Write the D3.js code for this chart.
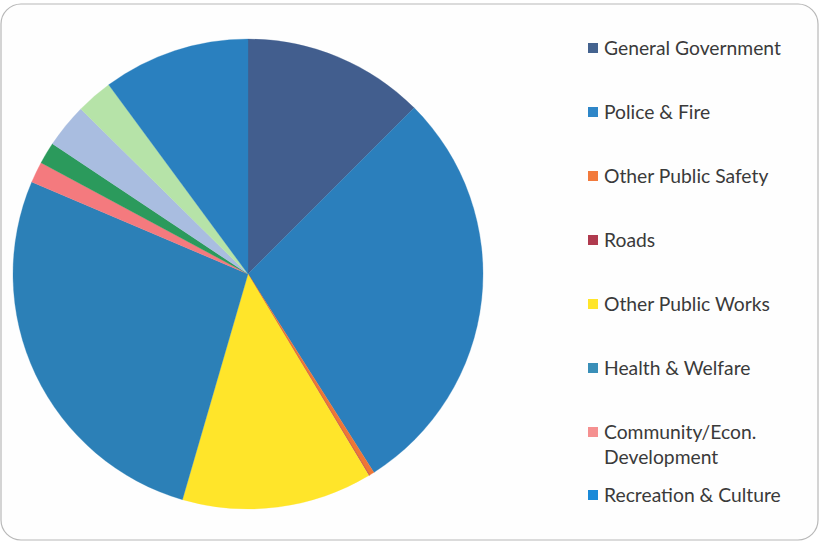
<!DOCTYPE html>
<html>
<head>
<meta charset="utf-8">
<script src="https://cdn.jsdelivr.net/npm/d3@7"></script>
<style>
  html, body { margin: 0; padding: 0; background: #ffffff; }
  svg { display: block; }
</style>
</head>
<body>
<svg id="chart" width="820" height="542"></svg>
<script>
// Expenditure shares by function (percent of total)
const categories = [
  "General Government",
  "Police & Fire",
  "Other Public Safety",
  "Roads",
  "Other Public Works",
  "Health & Welfare",
  "Community/Econ. Development",
  "Conservation",
  "Debt Service",
  "Capital Outlay",
  "Recreation & Culture"
];
const shares = [12.5, 28.5, 0.35, 0.05, 13.1, 26.9, 1.45, 1.5, 3.05, 2.5, 10.1];
const colors = [
  "#425e8e", "#2b7fbc", "#ee7636", "#b03a4e", "#ffe52a",
  "#2c80b7", "#f47a7e", "#2b9a5c", "#a9bde0", "#b6e3a8", "#2a80bf"
];
// Entries shown in the legend (in order)
const legendItems = [
  "General Government",
  "Police & Fire",
  "Other Public Safety",
  "Roads",
  "Other Public Works",
  "Health & Welfare",
  "Community/Econ. Development",
  "Recreation & Culture"
];
const legendColors = [
  "#44638f", "#2e86c8", "#f27a3c", "#b03a4e", "#ffe52a",
  "#3a8fb8", "#f59090", "#1a8ad8"
];

const svg = d3.select("#chart");
const W = 820, H = 542;

// Rounded frame
svg.append("rect")
  .attr("x", 1).attr("y", 4)
  .attr("width", W - 3).attr("height", H - 6)
  .attr("rx", 20).attr("ry", 20)
  .attr("fill", "#fefefe")
  .attr("stroke", "#b8b8b8")
  .attr("stroke-width", 1.2);

// Pie
const cx = 248, cy = 274, r = 235;
const data = categories.map((c, i) => ({ name: c, value: shares[i], color: colors[i] }));
const pie = d3.pie().value(d => d.value).sort(null).startAngle(0).endAngle(2 * Math.PI);
const arc = d3.arc().innerRadius(0).outerRadius(r);

svg.append("g")
  .attr("transform", `translate(${cx},${cy})`)
  .selectAll("path")
  .data(pie(data))
  .join("path")
  .attr("d", arc)
  .attr("fill", d => d.data.color)
  .attr("stroke", d => d.data.color)
  .attr("stroke-width", 0.3);

// Legend
const legend = svg.append("g").attr("font-family", "Lato, 'Open Sans', sans-serif")
  .attr("font-size", 19.3).attr("fill", "#3a3a3a");
const rowY = d3.scalePoint().domain(d3.range(legendItems.length - 1)).range([48, 432]);
const wrapWidth = 200;

legendItems.forEach((name, i) => {
  const y = i < legendItems.length - 1 ? rowY(i) : 495;
  const g = legend.append("g").attr("transform", `translate(588,${y})`);
  g.append("rect").attr("x", 0).attr("y", -5).attr("width", 10).attr("height", 10)
    .attr("fill", legendColors[i]);
  const t = g.append("text").attr("x", 16).attr("y", 7);
  // wrap long labels onto extra lines
  const words = name.split(" ");
  let line = [];
  let tspan = t.append("tspan").attr("x", 16).attr("dy", 0);
  words.forEach(w => {
    line.push(w);
    tspan.text(line.join(" "));
    if (tspan.node().getComputedTextLength() > wrapWidth && line.length > 1) {
      line.pop();
      tspan.text(line.join(" "));
      line = [w];
      tspan = t.append("tspan").attr("x", 16).attr("dy", 25).text(w);
    }
  });
});
</script>
</body>
</html>
